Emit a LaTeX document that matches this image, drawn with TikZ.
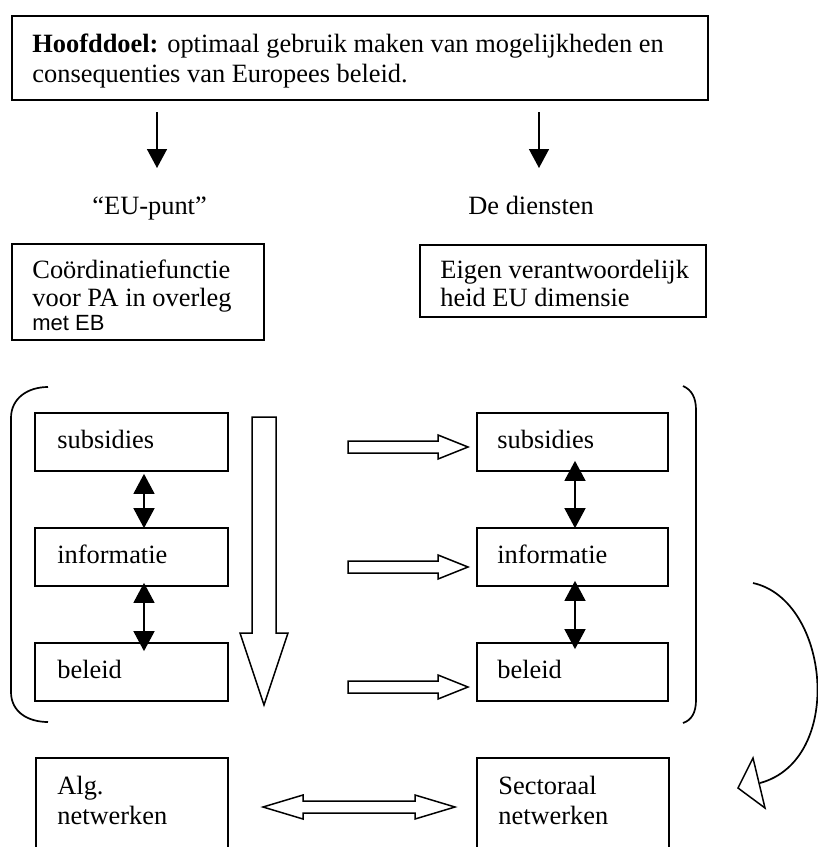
\documentclass[tikz,border=0pt]{standalone}
\usepackage{fontspec}
\setmainfont{Liberation Serif}
\newfontfamily\arialfont{Liberation Sans}
\usetikzlibrary{arrows.meta,fit}
\begin{document}
\begin{tikzpicture}[x=0.5pt,y=-0.5pt,
  box/.style={draw, line width=0.85pt, inner sep=0pt},
  txt/.style={anchor=base west, inner sep=0pt, font=\fontsize{13.2}{15}\selectfont},
  sarr/.style={line width=0.75pt, -{Triangle[length=9.5pt,width=10pt]}},
  dbl/.style={line width=0.75pt, {Triangle[length=10pt,width=10.5pt]}-{Triangle[length=10pt,width=10.5pt]}},
  hollow/.style={draw, line width=0.75pt, fill=white, line join=miter},
  brk/.style={line width=0.85pt}
]
\useasboundingbox (0,0) rectangle (818,847);
\clip (0,0) rectangle (818,847);

% top goal box
\node[box, line width=1.1pt, fit={(12,16) (708,100)}] (goal) {};
\node[txt] (g1) at (32,52) {\textbf{Hoofddoel:} optimaal gebruik maken van mogelijkheden en};
\node[txt] (g2) at (32,82) {consequenties van Europees beleid.};

% top arrows
\coordinate (a1s) at (157,112); \coordinate (a1e) at (157,168);
\coordinate (a2s) at (539,112); \coordinate (a2e) at (539,168);
\draw[sarr] (a1s) -- (a1e);
\draw[sarr] (a2s) -- (a2e);

% labels
\node[txt] (eup) at (92,214) {“EU-punt”};
\node[txt] (dd) at (468,214) {De diensten};

% coordination boxes
\node[box, fit={(12,244) (264,340)}] (coord) {};
\node[txt] (c1) at (32,278) {Coördinatiefunctie};
\node[txt] (c2) at (32,306) {voor PA in overleg};
\node[txt, font=\arialfont\fontsize{11}{13}\selectfont] (c3) at (32,330) {met EB};

\node[box, fit={(420,245) (706,317)}] (eigen) {};
\node[txt] (e1) at (440,278) {Eigen verantwoordelijk};
\node[txt] (e2) at (440,306) {heid EU dimensie};

% brackets
\draw[brk] (48,387) .. controls (28,387) and (11,398) .. (11,418) -- (11,692)
  .. controls (11,712) and (28,722) .. (48,722);
\draw[brk] (683,386) .. controls (692,390) and (696,398) .. (696,410) -- (696,700)
  .. controls (696,712) and (692,720) .. (683,723);

% left column
\node[box, fit={(35,413) (228,471)}] (ls) {};
\node[box, fit={(35,528) (228,586)}] (li) {};
\node[box, fit={(35,643) (228,701)}] (lb) {};
\node[txt] (tls) at (57,448) {subsidies};
\node[txt] (tli) at (57,563) {informatie};
\node[txt] (tlb) at (57,678) {beleid};

% right column
\node[box, fit={(477,413) (668,471)}] (rs) {};
\node[box, fit={(477,528) (668,586)}] (ri) {};
\node[box, fit={(477,643) (668,701)}] (rb) {};
\node[txt] (trs) at (497,448) {subsidies};
\node[txt] (tri) at (497,563) {informatie};
\node[txt] (trb) at (497,678) {beleid};

% double arrows
\draw[dbl] ([shift={(12.5,2)}]ls.south) -- ([shift={(12.5,1)}]li.north);
\draw[dbl] ([shift={(12.5,-4)}]li.south) -- ([shift={(12.5,9)}]lb.north);
\draw[dbl] ([shift={(2.5,-11)}]rs.south) -- ([shift={(2.5,1)}]ri.north);
\draw[dbl] ([shift={(2.5,-6)}]ri.south) -- ([shift={(2.5,7)}]rb.north);

% hollow down arrow
\draw[hollow] (252,417) -- (276,417) -- (276,633) -- (288,633) -- (264,705)
  -- (240,633) -- (252,633) -- cycle;

% hollow right arrows
\foreach \yc in {447,567,687}{
  \draw[hollow] (348,\yc-6) -- (438,\yc-6) -- (438,\yc-12) -- (468,\yc)
    -- (438,\yc+12) -- (438,\yc+6) -- (348,\yc+6) -- cycle;
}

% bottom boxes
\node[box, fit={(36,758) (228,870)}] (alg) {};
\node[txt] (ta1) at (57,794) {Alg.};
\node[txt] (ta2) at (57,824) {netwerken};
\node[box, fit={(477,758) (669,870)}] (sec) {};
\node[txt] (ts1) at (498,794) {Sectoraal};
\node[txt] (ts2) at (498,824) {netwerken};

% bottom double hollow arrow
\draw[hollow] (263,807) -- (303,795) -- (303,801) -- (415,801) -- (415,795)
  -- (455,807) -- (415,819) -- (415,813) -- (303,813) -- (303,819) -- cycle;

% curved arrow
\draw[line width=0.85pt] (753,583) .. controls (830,600) and (845,760) .. (760,783);
\draw[hollow] (753,758) -- (738,788) -- (765,808) -- cycle;
\end{tikzpicture}
\end{document}
